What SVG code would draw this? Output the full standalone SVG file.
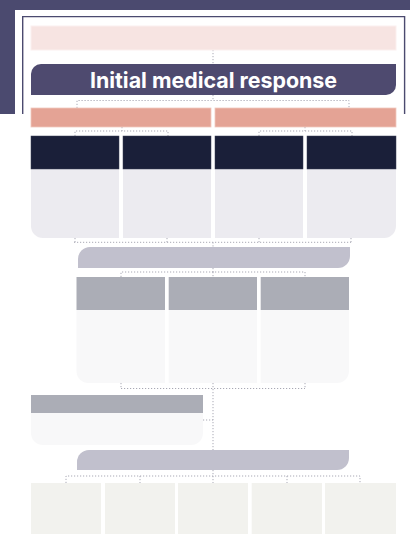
<svg xmlns="http://www.w3.org/2000/svg" width="410" height="534" viewBox="0 0 410 534">
  <style>
    .frame{fill:#4b4a6f}
    .edge{fill:none;stroke:#a9a9b5;stroke-width:1;stroke-dasharray:1.2 1.8}
    .pink{fill:#f7e4e2;stroke:#fbf0ef;stroke-width:1}
    .salmon{fill:#e4a395;stroke:#f0c8bf;stroke-width:0.8}
    .dark{fill:#1a1f39;stroke:#3a3e55;stroke-width:0.5}
    .lav{fill:#ecebf0}
    .grey{fill:#abadb6}
    .pale{fill:#f8f8f9}
    .band{fill:#c1c0cd}
    .beige{fill:#f2f2ee}
    .title{font-family:Inter,"Liberation Sans",Arial,sans-serif;font-weight:bold;font-size:21.4px;fill:#ffffff;text-anchor:middle}
  </style>
  <rect width="410" height="534" fill="#ffffff"/>
  <g id="frame">
    <rect class="frame" x="0" y="0" width="410" height="10"/>
    <rect class="frame" x="0" y="0" width="15" height="114"/>
    <path d="M22.7,114 V16.6 H404.6 V114" fill="none" stroke="#4b4a6f" stroke-width="1.4"/>
  </g>
  <g id="connectors">
    <path class="edge" d="M213,50 V64"/>
    <path class="edge" d="M213,95 V100.5 M77,108 V100.5 H349 V108"/>
    <path class="edge" d="M122,127 V131 M75,136 V131 H168 V136"/>
    <path class="edge" d="M305,127 V131 M259,136 V131 H352 V136"/>
    <path class="edge" d="M75,238 V242.3 M167,238 V242.3 M259,238 V242.3 M351,238 V242.3 M74,242.3 H351 M213,242.3 V247"/>
    <path class="edge" d="M213,268 V272 M121,277 V272 H305 V277 M213,272 V277"/>
    <path class="edge" d="M121,383 V388.5 M305,383 V388.5 M121,388.5 H305 M213,383 V450"/>
    <path class="edge" d="M203,420 H213"/>
    <path class="edge" d="M213,470 V476 M66,483 V476 H360 V483 M140,476 V483 M287,476 V483 M213,476 V483"/>
  </g>
  <g id="n-top"><rect class="pink" x="31" y="26" width="365" height="24"/></g>
  <g id="n-initial">
    <path d="M41,64 H396 V85 A10,10 0 0 1 386,95 H31 V74 A10,10 0 0 1 41,64 Z" fill="#4e4a6f"/>
    <text class="title" x="213.5" y="87.5">Initial medical response</text>
  </g>
  <g id="n-salmon-left"><rect class="salmon" x="31" y="108" width="180" height="19"/></g>
  <g id="n-salmon-right"><rect class="salmon" x="215" y="108" width="181" height="19"/></g>
  <g id="n-col1">
    <path class="lav" d="M31,169 H119 V238 H43 A12,12 0 0 1 31,226 Z"/>
    <rect class="dark" x="31" y="136" width="88" height="33"/>
  </g>
  <g id="n-col2">
    <rect class="lav" x="123" y="169" width="88" height="69"/>
    <rect class="dark" x="123" y="136" width="88" height="33"/>
  </g>
  <g id="n-col3">
    <rect class="lav" x="215" y="169" width="88" height="69"/>
    <rect class="dark" x="215" y="136" width="88" height="33"/>
  </g>
  <g id="n-col4">
    <path class="lav" d="M307,169 H396 V226 A12,12 0 0 1 384,238 H307 Z"/>
    <rect class="dark" x="307" y="136" width="89" height="33"/>
  </g>
  <g id="n-band2">
    <path class="band" d="M90,247 H350 V256 A12,12 0 0 1 338,268 H78 V259 A12,12 0 0 1 90,247 Z"/>
  </g>
  <g id="n-sub1">
    <path class="pale" d="M76.5,310 H165 V383 H88.5 A12,12 0 0 1 76.5,371 Z"/>
    <rect class="grey" x="76.5" y="277" width="88.5" height="33"/>
  </g>
  <g id="n-sub2">
    <rect class="pale" x="168.7" y="310" width="88.3" height="73"/>
    <rect class="grey" x="168.7" y="277" width="88.3" height="33"/>
  </g>
  <g id="n-sub3">
    <path class="pale" d="M260.7,310 H349 V371 A12,12 0 0 1 337,383 H260.7 Z"/>
    <rect class="grey" x="260.7" y="277" width="88.3" height="33"/>
  </g>
  <g id="n-left">
    <path class="pale" d="M31,413 H203 V433 A12,12 0 0 1 191,445 H43 A12,12 0 0 1 31,433 Z"/>
    <rect class="grey" x="31" y="395" width="172" height="18"/>
  </g>
  <g id="n-band3">
    <path class="band" d="M89,450 H349 V458 A12,12 0 0 1 337,470 H77 V462 A12,12 0 0 1 89,450 Z"/>
  </g>
  <g id="n-b1"><rect class="beige" x="31" y="483" width="70" height="51"/></g>
  <g id="n-b2"><rect class="beige" x="105" y="483" width="70" height="51"/></g>
  <g id="n-b3"><rect class="beige" x="178" y="483" width="70" height="51"/></g>
  <g id="n-b4"><rect class="beige" x="251.7" y="483" width="70.3" height="51"/></g>
  <g id="n-b5"><rect class="beige" x="325" y="483" width="71" height="51"/></g>
</svg>
